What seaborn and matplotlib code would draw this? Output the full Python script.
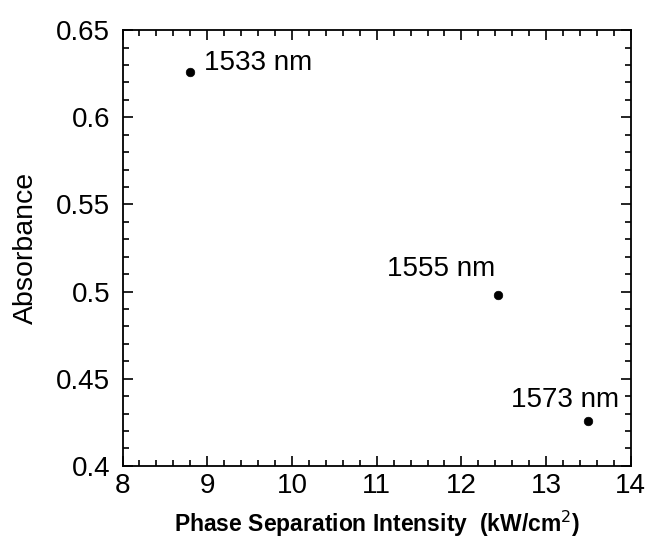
import pandas as pd
import seaborn as sns
import matplotlib.pyplot as plt
from matplotlib.ticker import MultipleLocator

# data
intensity = [8.80, 12.43, 13.49]
absorbance = [0.626, 0.498, 0.426]
labels = ["1533 nm", "1555 nm", "1573 nm"]

df = pd.DataFrame({"intensity": intensity, "absorbance": absorbance, "label": labels})

sns.set_style("ticks", {"text.color": "black", "axes.labelcolor": "black",
                        "xtick.color": "black", "ytick.color": "black"})
plt.rcParams["font.family"] = ["Liberation Sans", "DejaVu Sans"]

fig, ax = plt.subplots(figsize=(6.45, 5.38), dpi=100)
fig.subplots_adjust(left=0.19, right=0.978, top=0.944, bottom=0.134)

sns.scatterplot(data=df, x="intensity", y="absorbance", color="black",
                s=38, edgecolor="black", ax=ax, zorder=3)

# label positions relative to each point (in points)
offsets = [(10, 1.5), (-80, 14), (-55, 9.5)]
for (_, r), off in zip(df.iterrows(), offsets):
    ax.annotate(r["label"], (r["intensity"], r["absorbance"]), xytext=off,
                textcoords="offset points", fontsize=20, ha="left", va="baseline",
                color="black")

ax.set_xlim(8, 14)
ax.set_ylim(0.4, 0.65)
ax.xaxis.set_major_locator(MultipleLocator(1))
ax.xaxis.set_minor_locator(MultipleLocator(0.2))
ax.yaxis.set_minor_locator(MultipleLocator(0.01))
ax.set_yticks([0.4, 0.45, 0.5, 0.55, 0.6, 0.65])
ax.set_yticklabels(["0.4", "0.45", "0.5", "0.55", "0.6", "0.65"])
ax.tick_params(which="both", direction="in", top=True, right=True, labelsize=20,
               width=1.2, colors="black")
ax.tick_params(axis="y", pad=9)
ax.tick_params(axis="x", pad=5)
ax.tick_params(which="major", length=7)
ax.tick_params(which="minor", length=4)
for sp in ax.spines.values():
    sp.set_linewidth(1.3)
    sp.set_color("black")

ax.set_xlabel("Phase Separation Intensity  (kW/cm$^2$)", fontsize=16.5,
              fontweight="bold", labelpad=7, color="black")
ax.set_ylabel("Absorbance", fontsize=20.5, labelpad=12, color="black")

fig.savefig("out.png", dpi=100)
